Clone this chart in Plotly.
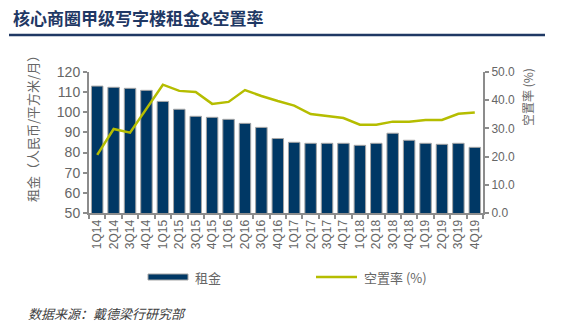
import plotly.graph_objects as go

quarters = ["1Q14", "2Q14", "3Q14", "4Q14", "1Q15", "2Q15", "3Q15", "4Q15",
            "1Q16", "2Q16", "3Q16", "4Q16", "1Q17", "2Q17", "3Q17", "4Q17",
            "1Q18", "2Q18", "3Q18", "4Q18", "1Q19", "2Q19", "3Q19", "4Q19"]
rent = [113.0, 112.4, 111.9, 110.9, 105.4, 101.5, 98.0, 97.5,
        96.5, 94.5, 92.5, 87.0, 85.1, 84.6, 84.6, 84.6,
        83.6, 84.6, 89.6, 86.1, 84.6, 84.1, 84.6, 82.6]
vacancy = [20.6, 29.8, 28.5, 36.8, 45.5, 43.3, 42.9, 38.7,
           39.4, 43.6, 41.5, 39.7, 38.1, 35.1, 34.4, 33.7,
           31.3, 31.3, 32.4, 32.4, 33.0, 33.0, 35.2, 35.6]

title_text = "核心商圈甲级写字楼租金&空置率"
left_title = "租金（人民币/平方米/月）"
right_title = "空置率 (%)"
bar_name = "租金"
line_name = "空置率 (%)"
source_text = "数据来源：戴德梁行研究部"

NAVY = "#003865"
LIME = "#b5bd00"
GRAY_AX = "#8c8c8c"
GRAY_TXT = "#666666"
CJK = "Noto Sans CJK SC"
LAT = "Liberation Sans"

fig = go.Figure()
fig.add_trace(go.Bar(
    x=quarters, y=rent, name=bar_name, yaxis="y",
    marker=dict(color=NAVY, line=dict(color="#a6a6a6", width=1)),
    showlegend=False,
))
fig.add_trace(go.Scatter(
    x=quarters, y=vacancy, name=line_name, yaxis="y2", mode="lines",
    line=dict(color=LIME, width=2.5),
    showlegend=False,
))

W, H = 569, 328
L, R, T, B = 89, 86, 72, 115
PW, PH = W - L - R, H - T - B

fig.update_layout(
    width=W, height=H,
    margin=dict(l=L, r=R, t=T, b=B),
    paper_bgcolor="white", plot_bgcolor="white",
    bargap=0.3,
    xaxis=dict(
        type="category", tickangle=-90, tickson="boundaries",
        ticks="outside", ticklen=4, tickcolor=GRAY_AX, tickwidth=1.5,
        showline=True, linecolor=GRAY_AX, linewidth=2,
        tickfont=dict(family=LAT, size=12, color=GRAY_TXT),
        showgrid=False,
    ),
    yaxis=dict(
        range=[50, 120], dtick=10, showgrid=False, zeroline=False,
        ticks="outside", ticklen=4, tickcolor=GRAY_AX, tickwidth=1.5,
        showline=True, linecolor=GRAY_AX, linewidth=2,
        tickfont=dict(family=LAT, size=14, color=GRAY_TXT),
    ),
    yaxis2=dict(
        range=[0, 50], dtick=10, tickformat=".1f", overlaying="y", side="right",
        showgrid=False, zeroline=False,
        ticks="outside", ticklen=4, tickcolor=GRAY_AX, tickwidth=1.5,
        showline=True, linecolor=GRAY_AX, linewidth=2,
        tickfont=dict(family=LAT, size=12, color=GRAY_TXT),
    ),
)

def px_x(x):
    return (x - L) / PW

def px_y(y):
    return (H - B - y) / PH

annotations = [
    dict(text="<b>" + title_text + "</b>", x=px_x(11), y=px_y(18), xanchor="left", yanchor="middle",
         font=dict(family=CJK, size=17, color="#1f3864")),
    dict(text=left_title, x=px_x(32), y=px_y(126), textangle=-90, xanchor="center", yanchor="middle",
         font=dict(family=CJK, size=13, color=GRAY_TXT)),
    dict(text=right_title, x=px_x(527), y=px_y(97), textangle=-90, xanchor="center", yanchor="middle",
         font=dict(family=CJK, size=12, color=GRAY_TXT)),
    dict(text=bar_name, x=px_x(193), y=px_y(277), xanchor="left", yanchor="middle",
         font=dict(family=CJK, size=13, color=GRAY_TXT)),
    dict(text=line_name, x=px_x(362), y=px_y(277), xanchor="left", yanchor="middle",
         font=dict(family=CJK, size=13, color=GRAY_TXT)),
    dict(text="<i>" + source_text + "</i>", x=px_x(26), y=px_y(313), xanchor="left", yanchor="middle",
         font=dict(family=CJK, size=13, color="#404040")),
]
for a in annotations:
    a.update(xref="paper", yref="paper", showarrow=False)
fig.update_layout(annotations=annotations)

shapes = [
    dict(type="line", x0=px_x(9), x1=px_x(545), y0=px_y(35), y1=px_y(35),
         line=dict(color="#1f3864", width=2.5)),
    dict(type="rect", x0=px_x(148), x1=px_x(188), y0=px_y(274), y1=px_y(280),
         fillcolor=NAVY, line=dict(color="#a6a6a6", width=1)),
    dict(type="line", x0=px_x(316), x1=px_x(357), y0=px_y(277), y1=px_y(277),
         line=dict(color=LIME, width=2.5)),
]
for s in shapes:
    s.update(xref="paper", yref="paper")
fig.update_layout(shapes=shapes)

fig.write_html("out.html")
